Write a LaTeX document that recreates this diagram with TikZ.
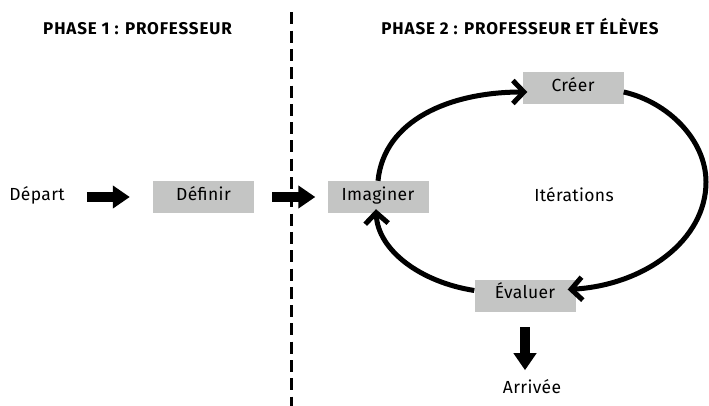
\documentclass[tikz,border=0pt]{standalone}
\usepackage{fontspec}
\setmainfont[LetterSpace=2]{Fira Sans}
\usetikzlibrary{arrows.meta}
\definecolor{boxgray}{RGB}{196,197,196}
\tikzset{
  box/.style={fill=boxgray, minimum width=101pt, minimum height=32pt, inner sep=0pt,
    font=\fontsize{17.5}{20}\selectfont, text height=0.69em, text depth=0pt},
  lbl/.style={inner sep=0pt, font=\fontsize{17.5}{20}\selectfont, text height=0.69em, text depth=0pt},
  ttl/.style={inner sep=0pt, font=\bfseries\fontsize{17}{20}\selectfont\addfontfeature{LetterSpace=5}, text height=0.69em, text depth=0pt},
  blockarrow/.style={line width=10pt, -{Triangle[length=17pt,width=22pt]}},
  ringarrow/.style={line width=5pt, -{Straight Barb[length=11pt,width=23pt]}},
  divider/.style={line width=3pt, dash pattern=on 12pt off 6.3pt}
}
\begin{document}
\begin{tikzpicture}[x=1pt,y=-1pt]
\useasboundingbox (0,0) rectangle (709,405);
\node[ttl] (t1) at (137.5,31) {PHASE 1 : PROFESSEUR};
\node[ttl] (t2) at (520,31) {PHASE 2 : PROFESSEUR ET ÉLÈVES};
\coordinate (dtop) at (291.5,12.3);
\coordinate (dbot) at (291.5,410);
\draw[divider] (dtop) -- (dbot);
\node[lbl] (dep) at (37,197) {Départ};
\node[box] (def) at (203.5,197) {Définir};
\node[box] (img) at (378,197) {Imaginer};
\node[box] (cre) at (573,88) {Créer};
\node[box] (eva) at (525,295.5) {Évaluer};
\node[lbl] (ite) at (574,198) {Itérations};
\node[lbl] (arr) at (532,390) {Arrivée};
\draw[blockarrow] ([xshift=-66pt]def.west) -- ([xshift=-23pt]def.west);
\draw[blockarrow] ([xshift=18pt]def.east) -- ([xshift=-12pt]img.west);
\draw[blockarrow] ([yshift=-15.5pt]eva.south) -- ([yshift=-58.5pt]eva.south);
\draw[ringarrow] (img.north) .. controls (384,120) and (450,92) .. ([xshift=5pt,yshift=-4pt]cre.west);
\draw[ringarrow] ([yshift=-4pt]cre.east) .. controls (668,102) and (706,140) .. (706,182)
  .. controls (706,240) and (645,285) .. ([xshift=-8pt,yshift=6pt]eva.east);
\draw[ringarrow] ([yshift=5pt]eva.west) .. controls (420,282) and (378,250) .. ([xshift=-2pt,yshift=4pt]img.south);
\end{tikzpicture}
\end{document}
